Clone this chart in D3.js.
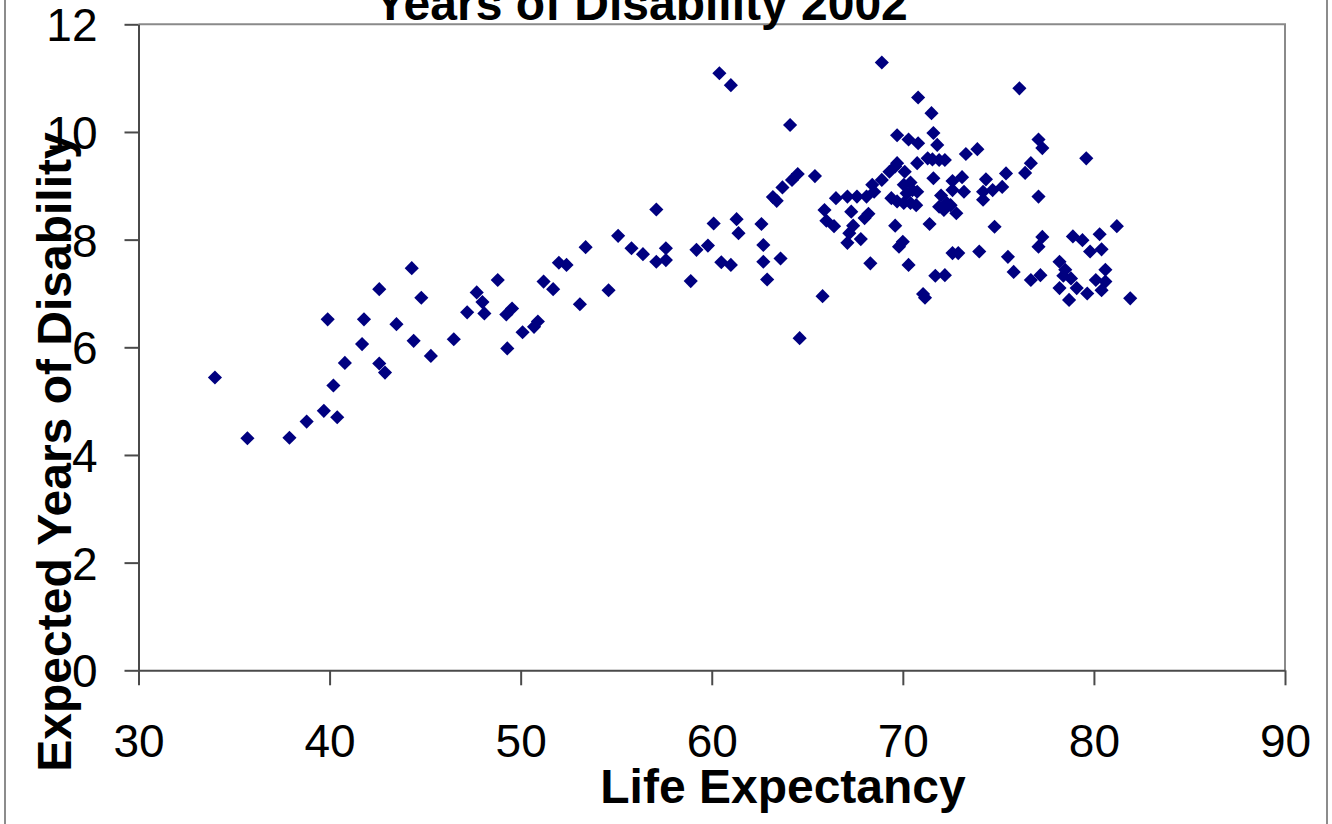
<!DOCTYPE html>
<html>
<head>
<meta charset="utf-8">
<script src="https://cdn.jsdelivr.net/npm/d3@7"></script>
<style>
  html, body { margin: 0; padding: 0; background: #fff; }
  svg { display: block; }
  text { font-family: "Liberation Sans", Arial, sans-serif; fill: #000; }
</style>
</head>
<body>
<svg id="chart" width="1332" height="824"></svg>
<script>
const chartTitle = "Years of Disability 2002";
const xTitle = "Life Expectancy";
const yTitle = "Expected Years of Disability";
const xTicks = [30, 40, 50, 60, 70, 80, 90];
const yTicks = [0, 2, 4, 6, 8, 10, 12];

const lifeExpectancy = [
  34.0, 35.7, 37.9, 38.8, 39.7, 40.4, 40.2, 40.8, 39.9, 41.7,
  41.8, 42.6, 42.6, 42.9, 43.5, 44.3, 44.4, 44.8, 45.3, 46.5,
  47.2, 47.7, 48.0, 48.1, 48.8, 49.3, 49.25, 49.55, 50.1, 50.7,
  50.9, 51.2, 51.7, 52.0, 52.4, 53.1, 53.4, 54.6, 55.1, 55.8,
  56.4, 57.1, 57.1, 57.6, 57.6, 58.9, 59.2, 59.8, 60.1, 60.4,
  61.0, 60.5, 61.0, 61.3, 61.4, 62.6, 62.7, 62.7, 62.9, 63.6,
  63.2, 63.4, 63.7, 64.1, 64.2, 64.5, 64.6, 65.4, 65.8, 65.9,
  66.0, 66.4, 66.5, 67.1, 67.2, 67.1, 67.3, 67.4, 67.6, 67.8,
  68.0, 68.2, 68.1, 68.3, 68.4, 68.5, 68.9, 68.9,
  69.3, 69.7, 69.6, 70.1, 70.05, 70.4, 70.5, 70.2, 70.75, 69.4,
  69.7, 70.05, 70.4, 70.7, 70.8, 71.5, 69.7, 71.6, 71.8, 70.3,
  70.8, 73.9, 73.3, 70.75, 71.3, 71.55, 71.9, 72.2, 71.6, 72.6,
  73.1, 72.6, 73.2, 72.0, 71.9, 72.3, 72.15, 72.5, 72.8, 74.35,
  75.4, 75.2, 74.7, 74.2, 74.2, 69.6, 71.4, 74.8, 70.0, 69.8,
  72.6, 72.9, 74.0, 75.5, 70.3, 75.8, 71.7, 72.2, 71.06, 71.16,
  76.1, 77.1, 77.3, 79.6, 76.7, 76.4, 77.1, 81.2, 77.3, 77.1,
  78.9, 79.4, 80.3, 79.8, 80.4, 76.7, 77.2, 78.2, 78.5, 78.4,
  78.8, 78.2, 79.1, 79.65, 78.7, 80.6, 80.1, 80.6, 80.4, 81.9
];
const disabilityYears = [
  5.44, 4.31, 4.32, 4.62, 4.82, 4.70, 5.29, 5.71, 6.52, 6.06,
  6.52, 7.08, 5.70, 5.53, 6.43, 7.47, 6.12, 6.92, 5.84, 6.15,
  6.65, 7.02, 6.84, 6.63, 7.25, 5.98, 6.61, 6.72, 6.28, 6.38,
  6.48, 7.22, 7.08, 7.57, 7.53, 6.80, 7.86, 7.06, 8.07, 7.84,
  7.73, 8.56, 7.59, 7.84, 7.62, 7.23, 7.81, 7.89, 8.30, 11.09,
  10.87, 7.58, 7.53, 8.38, 8.12, 8.29, 7.90, 7.59, 7.26, 7.65,
  8.79, 8.72, 8.97, 10.13, 9.11, 9.22, 6.17, 9.18, 6.95, 8.55,
  8.35, 8.25, 8.77, 7.94, 8.12, 8.80, 8.52, 8.26, 8.80, 8.01,
  8.40, 8.48, 8.80, 7.56, 9.02, 8.89, 9.11, 11.29,
  9.26, 9.42, 9.36, 9.26, 9.02, 9.06, 8.92, 8.86, 8.89, 8.77,
  8.71, 8.68, 8.68, 8.64, 10.64, 10.35, 9.94, 9.98, 9.76, 9.86,
  9.79, 9.68, 9.59, 9.42, 9.51, 9.49, 9.48, 9.48, 9.14, 9.09,
  9.16, 8.92, 8.89, 8.82, 8.61, 8.68, 8.55, 8.64, 8.49, 9.12,
  9.23, 8.98, 8.92, 8.89, 8.74, 8.26, 8.29, 8.24, 7.96, 7.87,
  7.75, 7.75, 7.78, 7.68, 7.53, 7.40, 7.33, 7.34, 6.99, 6.92,
  10.81, 9.86, 9.70, 9.51, 9.42, 9.24, 8.80, 8.25, 8.05, 7.87,
  8.06, 7.99, 8.10, 7.78, 7.82, 7.25, 7.34, 7.59, 7.44, 7.33,
  7.28, 7.10, 7.10, 7.00, 6.88, 7.44, 7.25, 7.22, 7.06, 6.91
];

const svg = d3.select("#chart");

// outer chart-area border
svg.append("rect")
  .attr("x", 5).attr("y", -10).attr("width", 1322).attr("height", 850)
  .attr("fill", "none").attr("stroke", "#8c8c8c").attr("stroke-width", 2);

const x = d3.scaleLinear().domain([30, 90]).range([138.5, 1285]);
const y = d3.scaleLinear().domain([0, 12]).range([670.3, 24.3]);

// plot area top/right border
svg.append("path")
  .attr("d", `M${x(30)},${y(12)}H${x(90)}V${y(0)}`)
  .attr("fill", "none").attr("stroke", "#8a8a8a").attr("stroke-width", 2);

// x axis
const gx = svg.append("g").attr("transform", `translate(0,${y(0)})`)
  .call(d3.axisBottom(x).tickValues(xTicks).tickSizeInner(15).tickSizeOuter(0).tickPadding(0).tickFormat(d3.format("d")));
gx.select(".domain").attr("stroke", "#4a4a4a").attr("stroke-width", 2);
gx.selectAll(".tick line").attr("stroke", "#4a4a4a").attr("stroke-width", 2);
gx.selectAll(".tick text").attr("font-size", 46).attr("dy", null).attr("y", 87)
  .attr("font-family", "Liberation Sans, Arial, sans-serif");

// y axis
const gy = svg.append("g").attr("transform", `translate(${x(30)},0)`)
  .call(d3.axisLeft(y).tickValues(yTicks).tickSizeInner(14).tickSizeOuter(0).tickPadding(0).tickFormat(d3.format("d")));
gy.select(".domain").attr("stroke", "#4a4a4a").attr("stroke-width", 2);
gy.selectAll(".tick line").attr("stroke", "#4a4a4a").attr("stroke-width", 2);
gy.selectAll(".tick text").attr("font-size", 46).attr("x", -41).attr("dy", "0.36em")
  .attr("font-family", "Liberation Sans, Arial, sans-serif");

// points
const pts = lifeExpectancy.map((v, i) => [v, disabilityYears[i]]);
const sym = d3.symbol().type(d3.symbolSquare).size(100);
svg.append("g").selectAll("path").data(pts).join("path")
  .attr("d", sym)
  .attr("transform", d => `translate(${x(d[0])},${y(d[1])}) rotate(45)`)
  .attr("fill", "#000080");

// titles
svg.append("text").attr("x", 641).attr("y", 20).attr("text-anchor", "middle")
  .attr("font-size", 48).attr("font-weight", "bold").text(chartTitle);
svg.append("text").attr("x", 783).attr("y", 803).attr("text-anchor", "middle")
  .attr("font-size", 48).attr("font-weight", "bold").text(xTitle);
svg.append("text").attr("transform", "translate(71,452) rotate(-90)").attr("text-anchor", "middle")
  .attr("font-size", 48).attr("font-weight", "bold").text(yTitle);
</script>
</body>
</html>
